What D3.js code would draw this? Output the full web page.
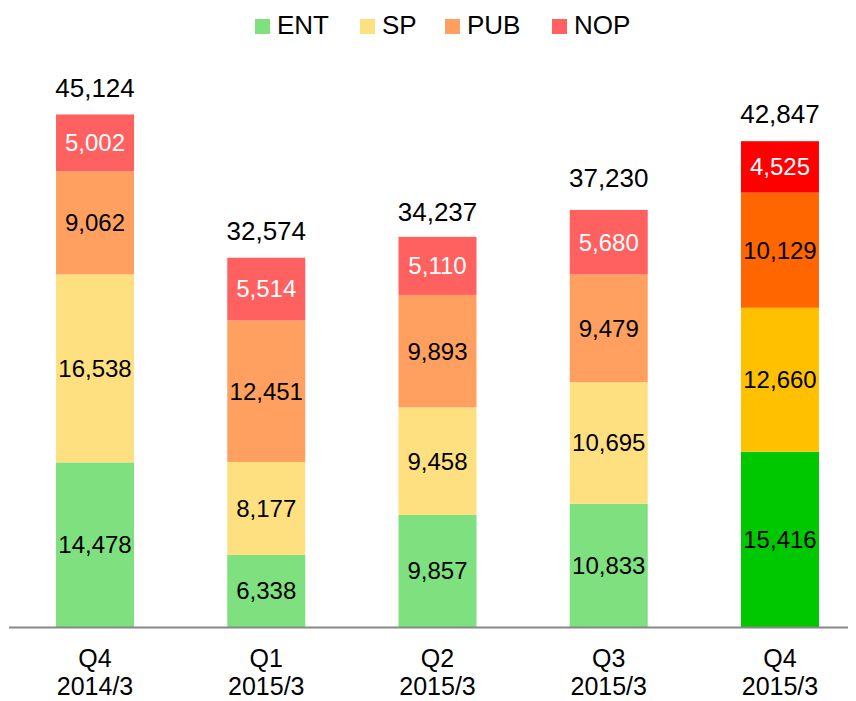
<!DOCTYPE html>
<html>
<head>
<meta charset="utf-8">
<script src="https://cdn.jsdelivr.net/npm/d3@7"></script>
<style>
  body { margin: 0; background: #fff; }
  text { font-family: "Liberation Sans", Arial, sans-serif; }
</style>
</head>
<body>
<svg id="chart"></svg>
<script>
// data
const quarters = ['Q4', 'Q1', 'Q2', 'Q3', 'Q4'];
const years = ['2014/3', '2015/3', '2015/3', '2015/3', '2015/3'];
const series = ['ENT', 'SP', 'PUB', 'NOP'];
const ENT = [14478, 6338, 9857, 10833, 15416];
const SP = [16538, 8177, 9458, 10695, 12660];
const PUB = [9062, 12451, 9893, 9479, 10129];
const NOP = [5002, 5514, 5110, 5680, 4525];
const totals = [45124, 32574, 34237, 37230, 42847];

const width = 856, height = 701;
const baseY = 627;

const colors = {
  ENT: '#7fe07f', SP: '#ffe080', PUB: '#ffa060', NOP: '#ff6060'
};
const lastColors = {
  ENT: '#00c800', SP: '#ffc000', PUB: '#ff6600', NOP: '#ff0000'
};

const svg = d3.select('#chart')
  .attr('width', width)
  .attr('height', height);

const rows = quarters.map((q, i) => ({
  idx: i, q: q, year: years[i],
  ENT: ENT[i], SP: SP[i], PUB: PUB[i], NOP: NOP[i], total: totals[i]
}));

const x = d3.scaleBand()
  .domain(rows.map(d => d.idx))
  .range([9.4, 865.6])
  .paddingInner(0.5445)
  .paddingOuter(0.2723);

const y = d3.scaleLinear()
  .domain([0, 50000])
  .range([baseY, baseY - 50000 * 0.011369]);

const stacked = d3.stack().keys(series)(rows);

const layers = svg.append('g').selectAll('g')
  .data(stacked)
  .enter().append('g');

layers.selectAll('rect')
  .data(s => s.map(p => ({ key: s.key, p: p })))
  .enter().append('rect')
  .attr('x', d => x(d.p.data.idx))
  .attr('width', x.bandwidth())
  .attr('y', d => y(d.p[1]))
  .attr('height', d => y(d.p[0]) - y(d.p[1]))
  .attr('fill', d => d.p.data.idx === 4 ? lastColors[d.key] : colors[d.key]);

layers.selectAll('text')
  .data(s => s.map(p => ({ key: s.key, p: p })))
  .enter().append('text')
  .attr('x', d => x(d.p.data.idx) + x.bandwidth() / 2)
  .attr('y', d => (y(d.p[0]) + y(d.p[1])) / 2)
  .attr('dy', '0.35em')
  .attr('text-anchor', 'middle')
  .attr('font-size', 24)
  .attr('fill', d => d.key === 'NOP' ? '#fff' : '#000')
  .text(d => d3.format(',')(d.p.data[d.key]));

// totals
svg.append('g').selectAll('text')
  .data(rows)
  .enter().append('text')
  .attr('x', d => x(d.idx) + x.bandwidth() / 2)
  .attr('y', d => y(d.total) - 17)
  .attr('text-anchor', 'middle')
  .attr('font-size', 26)
  .attr('fill', '#000')
  .text(d => d3.format(',')(d.total));

// baseline
svg.append('line')
  .attr('x1', 9).attr('x2', 848)
  .attr('y1', baseY + 0.5).attr('y2', baseY + 0.5)
  .attr('stroke', '#888')
  .attr('stroke-width', 2);

// category labels
const cat = svg.append('g').selectAll('text')
  .data(rows)
  .enter().append('text')
  .attr('text-anchor', 'middle')
  .attr('font-size', 25)
  .attr('fill', '#000');
cat.append('tspan')
  .attr('x', d => x(d.idx) + x.bandwidth() / 2)
  .attr('y', 667)
  .text(d => d.q);
cat.append('tspan')
  .attr('x', d => x(d.idx) + x.bandwidth() / 2)
  .attr('y', 695)
  .text(d => d.year);

// legend
const legendX = [255, 360, 445, 552];
const legend = svg.append('g').selectAll('g')
  .data(series)
  .enter().append('g')
  .attr('transform', (d, i) => `translate(${legendX[i]},0)`);
legend.append('rect')
  .attr('x', 0).attr('y', 19)
  .attr('width', 15).attr('height', 15)
  .attr('fill', d => colors[d]);
legend.append('text')
  .attr('x', 22).attr('y', 34)
  .attr('font-size', 26)
  .attr('fill', '#000')
  .text(d => d);
</script>
</body>
</html>
